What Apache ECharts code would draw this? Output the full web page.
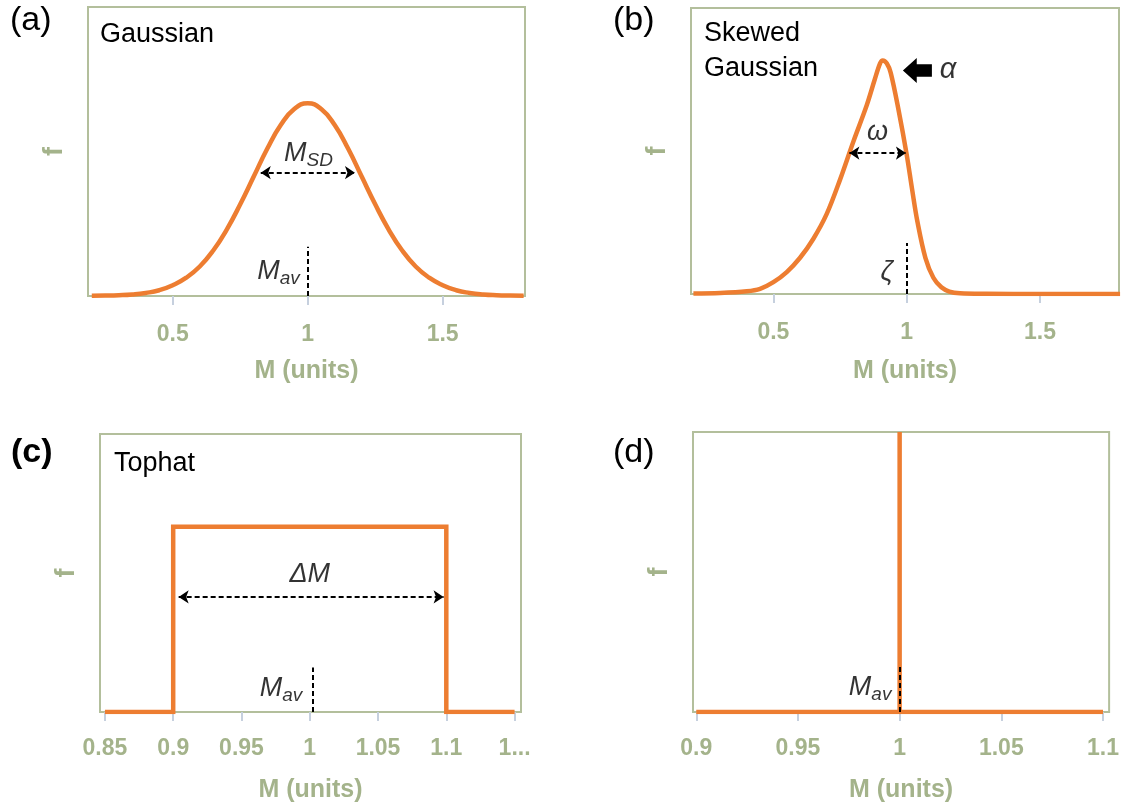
<!DOCTYPE html>
<html><head><meta charset="utf-8">
<script src="https://cdn.jsdelivr.net/npm/echarts@6/dist/echarts.min.js"></script>
<style>html,body{margin:0;padding:0;background:#fff}#c{width:1122px;height:807px}</style>
</head><body><div id="c"></div>
<script>
// ---- data ----
const gaussM = [0.2,0.25,0.3,0.35,0.4,0.45,0.5,0.55,0.6,0.65,0.7,0.75,0.8,0.85,0.9,0.95,1,1.05,1.1,1.15,1.2,1.25,1.3,1.35,1.4,1.45,1.5,1.55,1.6,1.65,1.7,1.75,1.8];
const gaussF = [0.001,0.002,0.004,0.008,0.016,0.030,0.056,0.095,0.153,0.236,0.345,0.476,0.620,0.764,0.887,0.970,1.000,0.970,0.887,0.764,0.620,0.476,0.345,0.236,0.153,0.095,0.056,0.030,0.016,0.008,0.004,0.002,0.001];
const skewM = [0.2,0.3,0.4,0.45,0.5,0.55,0.6,0.65,0.7,0.75,0.8,0.85,0.88,0.9,0.91,0.925,0.94,0.97,1.0,1.02,1.04,1.07,1.1,1.13,1.16,1.2,1.3,1.5,1.8];
const skewF = [0.002,0.005,0.014,0.027,0.062,0.115,0.19,0.29,0.42,0.60,0.80,0.99,1.125,1.21,1.225,1.21,1.16,0.96,0.73,0.55,0.38,0.19,0.085,0.035,0.013,0.004,0.001,0,0];
const tophatM = [0.85,0.9,0.9,1.1,1.1,1.15];
const tophatF = [0,0,1,1,0,0];
const deltaM = [0.9,1,1,1,1.1];
const deltaF = [0,0,1.5,0,0];
const ticksAB = [0.5,1,1.5];
const ticksC = [0.85,0.9,0.95,1,1.05,1.1,1.15];
const tickLabelsC = ['0.85','0.9','0.95','1','1.05','1.1','1...'];
const ticksD = [0.9,0.95,1,1.05,1.1];
const panelLetters = ['(a)','(b)','(c)','(d)'];
const panelNames = ['Gaussian','Skewed\nGaussian','Tophat'];
const xName = 'M (units)';
const yName = 'f';

// ---- styling ----
const FONT = '"Liberation Sans", Arial, sans-serif';
const LBL = '#a4b38b';
const BORDER = '#b3bf9c';
const ORANGE = '#ED7D31';
const TICK = '#c6d0de';

const grids = [
  {left:88, top:7, width:437, height:289},
  {left:691, top:8, width:428, height:286},
  {left:100, top:434, width:421, height:278},
  {left:693, top:432, width:424, height:280}
].map(g => Object.assign(g, {show:true, borderColor:BORDER, borderWidth:2, containLabel:false}));

function pair(ms, fs){ return ms.map((m,i)=>[m, fs[i]]); }

function xAx(i, min, max, ticks, fmt, gap, margin){
  return {type:'value', gridIndex:i, min:min, max:max, name:xName, nameLocation:'middle', nameGap:gap,
    nameTextStyle:{fontFamily:FONT, fontWeight:'bold', fontSize:25, color:LBL},
    axisLine:{show:true, lineStyle:{color:BORDER, width:2}}, splitLine:{show:false},
    axisTick:{show:true, customValues:ticks, length:9, lineStyle:{color:TICK, width:2}},
    axisLabel:{show:true, customValues:ticks, formatter:fmt, margin:margin, fontFamily:FONT, fontWeight:'bold', fontSize:23, color:LBL}};
}
function yAx(i){
  return {type:'value', gridIndex:i, min:0, max:1.5, name:yName, nameLocation:'middle', nameRotate:90, nameGap:20,
    nameTextStyle:{fontFamily:FONT, fontWeight:'bold', fontSize:27, color:LBL},
    axisLine:{show:false}, axisTick:{show:false}, axisLabel:{show:false}, splitLine:{show:false}};
}
const plainFmt = v => String(+v.toFixed(3));
const fmtC = v => { const k = ticksC.findIndex(t => Math.abs(t-v) < 1e-9); return k >= 0 ? tickLabelsC[k] : String(v); };

const dash = {color:'#000', type:[5,3], width:2};
function vline(x, y){ return [{coord:[x,0], symbol:'none'},{coord:[x,y], symbol:'none'}]; }
function harrow(x1, x2, y){ return [{coord:[x1,y], symbol:'arrow', symbolSize:[10,10]},{coord:[x2,y], symbol:'arrow', symbolSize:[10,10]}]; }

const itText = {fontFamily:FONT, fontStyle:'italic', color:'#000'};
const subRich = {
  m: Object.assign({fontSize:27, lineHeight:27, verticalAlign:'top'}, itText),
  s: Object.assign({fontSize:19, lineHeight:19, verticalAlign:'top', padding:[11,0,0,0]}, itText)
};
function note(x, y, text, extra){
  return {value:[x,y], label:Object.assign({show:true, position:'inside', formatter:text, fontSize:27, rich:subRich}, itText, extra||{})};
}
function notes(i, items){
  return {type:'scatter', xAxisIndex:i, yAxisIndex:i, symbolSize:1, itemStyle:{color:'rgba(0,0,0,0)'}, silent:true, z:5, data:items};
}
function curve(i, data, smooth, ml, mp){
  const s = {type:'line', xAxisIndex:i, yAxisIndex:i, data:data, smooth:smooth, showSymbol:false, symbol:'none',
    lineStyle:{color:ORANGE, width:4.5, join:'miter'}, itemStyle:{color:ORANGE}, silent:true, z:3,
    markLine:{silent:true, symbol:['none','none'], label:{show:false}, lineStyle:dash, data:ml}};
  if (mp) s.markPoint = mp;
  return s;
}

const titles = [];
const letterPos = [[10,4,'normal'],[613,4,'normal'],[11,436,'bold'],[613,436,'normal']];
panelLetters.forEach((t,k)=>titles.push({text:t, left:letterPos[k][0], top:letterPos[k][1], padding:0,
  textStyle:{fontFamily:FONT, fontSize:34, fontWeight:letterPos[k][2], color:'#000'}}));
const namePos = [[100,17],[704,16],[114,446]];
panelNames.forEach((t,k)=>titles.push({text:t, left:namePos[k][0], top:namePos[k][1], padding:0,
  textStyle:{fontFamily:FONT, fontSize:27, fontWeight:'normal', color:'#000', lineHeight:35}}));

const option = {
  animation:false,
  backgroundColor:'#fff',
  title:titles,
  grid:grids,
  xAxis:[
    xAx(0, 0.186, 1.805, ticksAB, plainFmt, 63, 27),
    xAx(1, 0.191, 1.796, ticksAB, plainFmt, 65, 27),
    xAx(2, 0.8464, 1.1547, ticksC, fmtC, 66, 25),
    xAx(3, 0.8984, 1.103, ticksD, plainFmt, 66, 25)
  ],
  yAxis:[yAx(0), yAx(1), yAx(2), yAx(3)],
  series:[
    curve(0, pair(gaussM, gaussF), 0.5, [harrow(0.826,1.175,0.64), vline(1,0.256)]),
    curve(1, pair(skewM, skewF), 0.35, [harrow(0.785,0.997,0.739), vline(1,0.268)],
      {silent:true, label:{show:false}, data:[{coord:[1.04,1.172], symbol:'path://M0,12.5L13.7,0L13.7,6.2L28.7,6.2L28.7,18.8L13.7,18.8L13.7,25Z', symbolSize:[29,25], itemStyle:{color:'#000'}, label:{show:false}}]}),
    curve(2, pair(tophatM, tophatF), false, [harrow(0.904,1.098,0.621), vline(1.002,0.24)]),
    curve(3, pair(deltaM, deltaF), false, [vline(1,0.242)]),
    notes(0, [note(1.003,0.74,'{m|M}{s|SD}'), note(0.8915,0.125,'{m|M}{s|av}')]),
    notes(1, [note(0.89,0.848,'ω'), note(0.925,0.113,'ζ'), note(1.155,1.173,'α', {fontSize:29})]),
    notes(2, [note(1.0,0.744,'ΔM'), note(0.979,0.128,'{m|M}{s|av}')]),
    notes(3, [note(0.9855,0.13,'{m|M}{s|av}')])
  ]
};
const chart = echarts.init(document.getElementById('c'), null, {renderer:'canvas'});
chart.setOption(option);
</script>
</body></html>
